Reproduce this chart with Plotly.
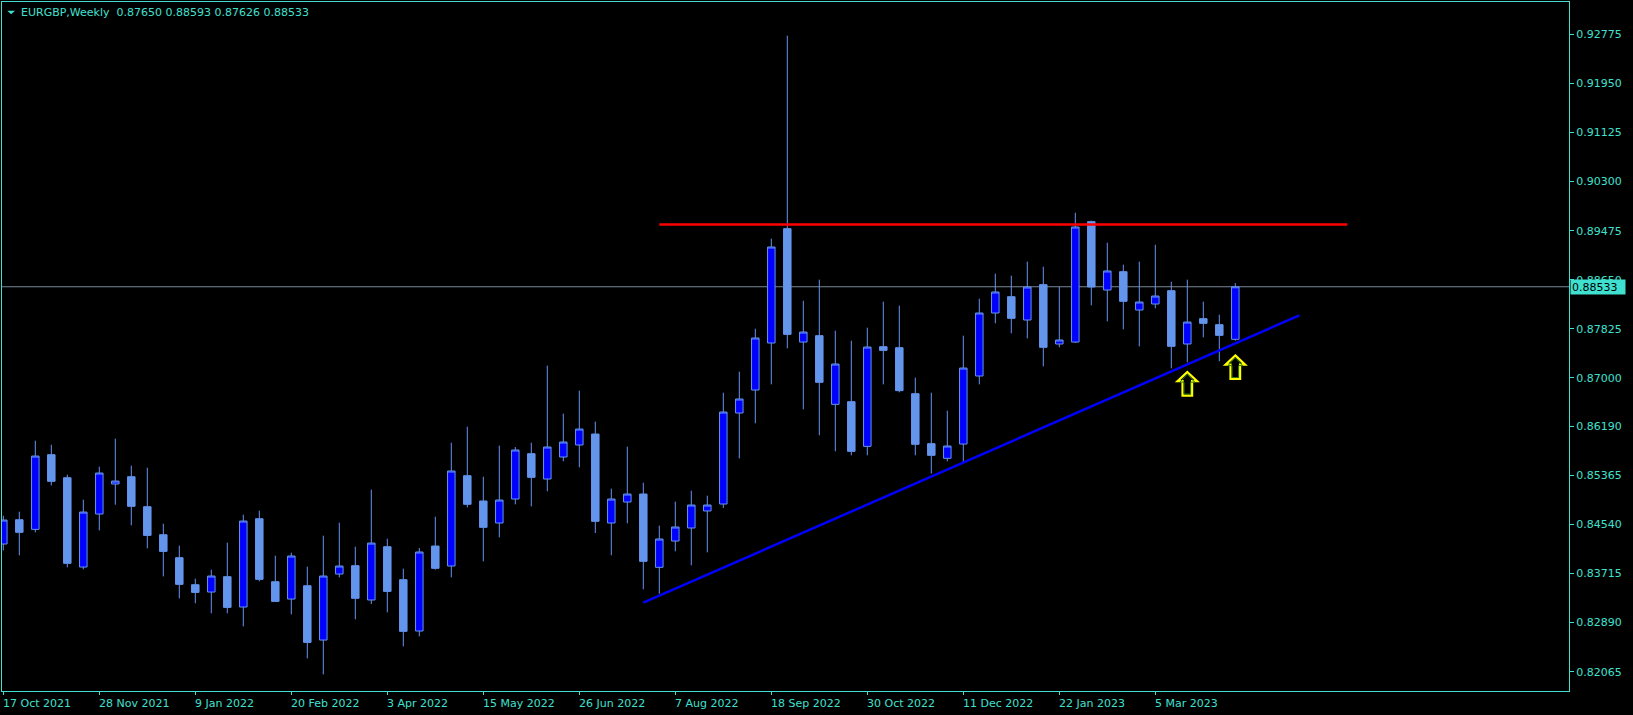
import plotly.graph_objects as go
import pandas as pd

# ---------------- data ----------------
week_dates = pd.date_range("2021-10-17", periods=78, freq="7D")

opens = [0.84210, 0.84618, 0.84456, 0.85711, 0.85324, 0.83823, 0.84714, 0.85218, 0.85341, 0.84837,
         0.84366, 0.83980, 0.83526, 0.83403, 0.83661, 0.83151, 0.84635, 0.83576, 0.83285, 0.83509,
         0.82596, 0.83705, 0.83846, 0.83269, 0.84165, 0.83611, 0.82748, 0.84176, 0.83840, 0.85358,
         0.84933, 0.84563, 0.84966, 0.85728, 0.85302, 0.85672, 0.85874, 0.86058, 0.84563, 0.84916,
         0.85050, 0.83818, 0.84260, 0.84479, 0.84765, 0.84882, 0.86411, 0.86798, 0.87588, 0.89509,
         0.87604, 0.87711, 0.86557, 0.86602, 0.85851, 0.87526, 0.87509, 0.86736, 0.85896, 0.85650,
         0.85890, 0.87033, 0.88092, 0.88366, 0.87974, 0.88568, 0.87571, 0.87604, 0.89627, 0.88478,
         0.88786, 0.88142, 0.88243, 0.88467, 0.87571, 0.87997, 0.87896, 0.87650]
highs = [0.84686, 0.84753, 0.85946, 0.85879, 0.85375, 0.84955, 0.85509, 0.85980, 0.85526, 0.85492,
         0.84551, 0.84182, 0.83627, 0.83778, 0.84232, 0.84703, 0.84770, 0.84014, 0.84064, 0.83829,
         0.84350, 0.84568, 0.84165, 0.85123, 0.84299, 0.83796, 0.84143, 0.84669, 0.85913, 0.86182,
         0.85342, 0.85862, 0.85840, 0.85913, 0.87207, 0.86400, 0.86787, 0.86266, 0.85140, 0.85846,
         0.85241, 0.84518, 0.84921, 0.85106, 0.85022, 0.86753, 0.87106, 0.87828, 0.89341, 0.92752,
         0.88299, 0.88652, 0.87795, 0.87627, 0.87845, 0.88282, 0.88215, 0.87005, 0.86753, 0.86450,
         0.87711, 0.88333, 0.88753, 0.88719, 0.88954, 0.88870, 0.88529, 0.89778, 0.89643, 0.89274,
         0.88904, 0.88954, 0.89240, 0.88618, 0.88652, 0.88282, 0.88064, 0.88593]
lows = [0.84103, 0.84019, 0.84406, 0.85195, 0.83818, 0.83784, 0.84439, 0.84871, 0.84523, 0.84137,
        0.83666, 0.83297, 0.83213, 0.83045, 0.83045, 0.82826, 0.83582, 0.83240, 0.83028, 0.82288,
        0.82020, 0.83649, 0.82944, 0.83201, 0.83061, 0.82490, 0.82658, 0.83779, 0.83650, 0.84826,
        0.83919, 0.84322, 0.84877, 0.84843, 0.85095, 0.85599, 0.85498, 0.84395, 0.84020, 0.84557,
        0.83448, 0.83375, 0.84087, 0.83852, 0.84070, 0.84815, 0.85650, 0.86238, 0.86893, 0.87498,
        0.86473, 0.86036, 0.85767, 0.85700, 0.85700, 0.86893, 0.86759, 0.85700, 0.85392, 0.85599,
        0.85588, 0.86893, 0.87918, 0.87750, 0.87666, 0.87196, 0.87515, 0.87588, 0.88221, 0.87952,
        0.87817, 0.87532, 0.88170, 0.87162, 0.87263, 0.87683, 0.87280, 0.87626]
closes = [0.84613, 0.84406, 0.85688, 0.85263, 0.83885, 0.84747, 0.85403, 0.85268, 0.84843, 0.84355,
          0.84086, 0.83532, 0.83397, 0.83672, 0.83145, 0.84596, 0.83616, 0.83246, 0.84008, 0.82557,
          0.83672, 0.83840, 0.83297, 0.84226, 0.83414, 0.82742, 0.84076, 0.83801, 0.85437, 0.84877,
          0.84490, 0.84949, 0.85790, 0.85330, 0.85840, 0.85924, 0.86142, 0.84591, 0.84966, 0.85050,
          0.83919, 0.84294, 0.84496, 0.84865, 0.84865, 0.86428, 0.86647, 0.87672, 0.89201, 0.87733,
          0.87772, 0.86927, 0.87235, 0.85767, 0.87520, 0.87464, 0.86787, 0.85885, 0.85700, 0.85857,
          0.87167, 0.88092, 0.88445, 0.88002, 0.88529, 0.87515, 0.87638, 0.89537, 0.88529, 0.88798,
          0.88288, 0.88277, 0.88377, 0.87532, 0.87940, 0.87918, 0.87716, 0.88533]

tick_index = [0, 6, 12, 18, 24, 30, 36, 42, 48, 54, 60, 66, 72]
tick_labels = ["17 Oct 2021", "28 Nov 2021", "9 Jan 2022", "20 Feb 2022", "3 Apr 2022",
               "15 May 2022", "26 Jun 2022", "7 Aug 2022", "18 Sep 2022", "30 Oct 2022",
               "11 Dec 2022", "22 Jan 2023", "5 Mar 2023"]
price_ticks = [0.92775, 0.91950, 0.91125, 0.90300, 0.89475, 0.88650, 0.87825,
               0.87000, 0.86190, 0.85365, 0.84540, 0.83715, 0.82890, 0.82065]

resistance_x = [41, 84]
resistance_y = [0.89581, 0.89581]
trend_x = [40, 81]
trend_y = [0.83224, 0.88052]
arrow_x = [74, 77]
arrow_y = [0.86903, 0.87181]

symbol = "EURGBP,Weekly"

# ---------------- styling ----------------
TURQ = "#40E0D0"
BULL = "#0000FF"
BEAR = "#6495ED"
FONT = "DejaVu Sans"

x_idx = list(range(len(opens)))
hover = [d.strftime("%d %b %Y") for d in week_dates]

fig = go.Figure()
fig.add_trace(go.Candlestick(
    x=x_idx, open=opens, high=highs, low=lows, close=closes,
    text=hover, hoverinfo="text+y",
    increasing=dict(fillcolor=BULL, line=dict(color=BEAR, width=1)),
    decreasing=dict(fillcolor=BEAR, line=dict(color=BEAR, width=1)),
    whiskerwidth=0,
))
fig.add_trace(go.Scatter(x=resistance_x, y=resistance_y, mode="lines",
                         line=dict(color="#FF0000", width=2.5), hoverinfo="skip"))
fig.add_trace(go.Scatter(x=trend_x, y=trend_y, mode="lines",
                         line=dict(color="#0000FF", width=2.5), hoverinfo="skip"))

# bid line
fig.add_shape(type="line", xref="paper", x0=0, x1=1, yref="y", y0=closes[-1], y1=closes[-1],
              line=dict(color="#778899", width=1), layer="below")

# hollow up arrows (pixel-sized outline anchored at the data points)
outer = "M 0,11.8 L 9.8,2.6 L 4.8,2.6 L 4.8,-11.8 L -4.8,-11.8 L -4.8,2.6 L -9.8,2.6 Z"
inner = "M 0,9.6 L 7.4,1.6 L 3.3,1.6 L 3.3,-10.3 L -3.3,-10.3 L -3.3,1.6 L -7.4,1.6 Z"
for ax, ay in zip(arrow_x, arrow_y):
    fig.add_shape(type="path", xref="x", yref="y", xsizemode="pixel", ysizemode="pixel",
                  xanchor=ax, yanchor=ay, path=outer,
                  line=dict(color="#FFFF00", width=2.2), fillcolor="rgba(0,0,0,0)")
    fig.add_shape(type="path", xref="x", yref="y", xsizemode="pixel", ysizemode="pixel",
                  xanchor=ax, yanchor=ay, path=inner,
                  line=dict(color="#2E7D00", width=1), fillcolor="rgba(0,0,0,0)")

# small triangle before the title
fig.add_shape(type="path", xref="paper", yref="paper", xsizemode="pixel", ysizemode="pixel",
              xanchor=0, yanchor=1, path="M 5.3,-8.7 L 13,-8.7 L 9.15,-12.3 Z",
              fillcolor=TURQ, line=dict(width=0))

annotations = []
title_txt = (symbol + "\u00a0\u00a0" + f"{opens[-1]:.5f} {highs[-1]:.5f} {lows[-1]:.5f} {closes[-1]:.5f}")
annotations.append(dict(text=title_txt, xref="paper", yref="paper", x=0, y=1,
                        xanchor="left", yanchor="middle", xshift=17, yshift=-10.7,
                        showarrow=False, font=dict(family=FONT, size=11, color=TURQ)))
for ti, tl in zip(tick_index, tick_labels):
    annotations.append(dict(text=tl, xref="x", yref="paper", x=ti, y=0,
                            xanchor="left", yanchor="top", xshift=-2, yshift=-4,
                            showarrow=False, font=dict(family=FONT, size=11, color=TURQ)))
annotations.append(dict(text=f"{closes[-1]:.5f}", xref="paper", yref="y", x=1, y=closes[-1],
                        xanchor="left", yanchor="middle", xshift=1, showarrow=False,
                        bgcolor=TURQ, borderpad=1, width=52, height=12, align="left",
                        font=dict(family=FONT, size=11, color="#000000")))

fig.update_layout(
    width=1633, height=715,
    margin=dict(l=2, r=64, t=2, b=24),
    paper_bgcolor="#000000", plot_bgcolor="#000000",
    showlegend=False, boxgap=0.33,
    annotations=annotations,
    xaxis=dict(range=[-0.08125, 97.856], rangeslider=dict(visible=False),
               showgrid=False, zeroline=False, showline=True, linecolor=TURQ, linewidth=1,
               mirror=True, ticks="outside", ticklen=3, tickcolor=TURQ,
               tickvals=tick_index, showticklabels=False),
    yaxis=dict(side="right", range=[0.81740, 0.93318], showgrid=False, zeroline=False,
               showline=True, linecolor=TURQ, linewidth=1, mirror=True,
               ticks="outside", ticklen=4, tickcolor=TURQ,
               tickvals=price_ticks, ticktext=[f"{v:.5f}" for v in price_ticks],
               tickfont=dict(family=FONT, size=11, color=TURQ)),
    hoverlabel=dict(font=dict(family=FONT)),
)

fig.write_html("out.html", config={"displayModeBar": False},
               post_script="document.body.style.margin='0';document.body.style.background='#000';")
